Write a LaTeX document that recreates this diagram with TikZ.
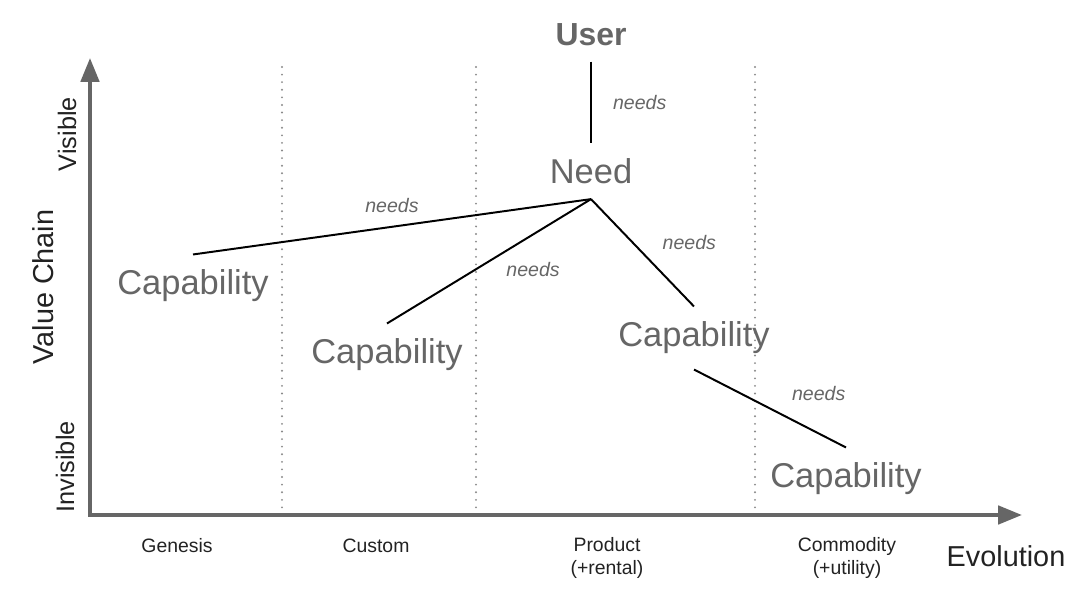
\documentclass[tikz,border=0pt]{standalone}
\usepackage{fontspec}
\setmainfont{Liberation Sans}
\usetikzlibrary{arrows.meta,positioning}
\definecolor{txtgray}{HTML}{666666}
\definecolor{axisgray}{HTML}{666666}
\definecolor{dotgray}{HTML}{8A8A8A}
\definecolor{lblblack}{HTML}{222222}

\begin{document}
\begin{tikzpicture}[x=0.025cm,y=-0.025cm,
    comp/.style={text=txtgray,inner sep=0pt,outer sep=11pt,font=\fontsize{24.5pt}{28pt}\selectfont},
    link/.style={line width=1.4pt,black},
    lbl/.style={text=txtgray,inner sep=3pt,font=\fontsize{13.9pt}{16pt}\selectfont\itshape},
    axis/.style={line width=2.8pt,axisgray,{Triangle[length=17pt,width=13pt]}-{Triangle[length=17pt,width=13pt]}},
    stage/.style={text=lblblack,align=center,font=\fontsize{13.8pt}{17pt}\selectfont},
    side/.style={text=lblblack,rotate=90,font=\fontsize{18pt}{20pt}\selectfont},
    divider/.style={dotgray,line width=1.5pt,line cap=round,dash pattern=on 0pt off 5.4pt}]
  \useasboundingbox (0,0) rectangle (1080,597);

  % evolution stages
  \foreach \x in {282,476,755} {
    \draw[divider] (\x,515) -- (\x,60);
  }
  \draw[axis] (90,58) -- (90,515) -- (1022,515);

  \node[stage] (genesis) at (177,546) {Genesis};
  \node[stage] (custom) at (376,546) {Custom};
  \node[stage] (product) at (607,558) {Product\\(+rental)};
  \node[stage] (commodity) at (847,558) {Commodity\\(+utility)};
  \node[text=lblblack,font=\fontsize{20.5pt}{24pt}\selectfont] (evolution) at (1006,556) {Evolution};

  \node[text=lblblack,rotate=90,font=\fontsize{20.5pt}{24pt}\selectfont] (chain) at (43,287) {Value Chain};
  \node[side] (visible) at (67,134) {Visible};
  \node[side] (invisible) at (65,467) {Invisible};

  % value chain
  \node[comp,font=\fontsize{22.7pt}{26pt}\selectfont\bfseries] (user) at (591,35) {User};
  \node[comp] (need) at (591,171) {Need};
  \node[comp] (capA) at (193,286) {Capability};
  \node[comp] (capB) at (387,355) {Capability};
  \node[comp] (capC) at (694,338) {Capability};
  \node[comp] (capD) at (846,479) {Capability};

  \draw[link] (user) -- node[lbl,right=12pt] {needs} (need);
  \draw[link] (need.south) -- node[lbl,above=6pt] {needs} (capA.north);
  \draw[link] (need.south) -- node[lbl,pos=.45,below right=2pt] {needs} (capB.north);
  \draw[link] (need.south) -- node[lbl,pos=.4,right=18pt] {needs} (capC.north);
  \draw[link] (capC.south) -- node[lbl,above right=2pt and 12pt] {needs} (capD.north);
\end{tikzpicture}
\end{document}
